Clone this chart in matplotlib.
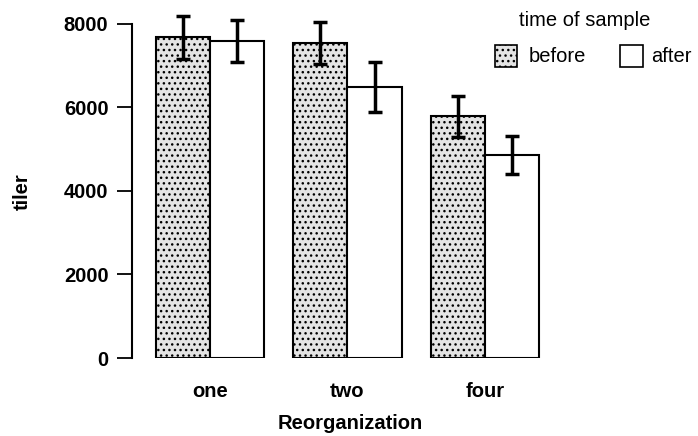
import matplotlib
matplotlib.use("Agg")
import matplotlib.pyplot as plt
from matplotlib.patches import Rectangle
import numpy as np

categories = ["one", "two", "four"]
before = [7680, 7540, 5790]
after = [7600, 6490, 4860]
before_err = [520, 500, 490]
after_err = [500, 590, 455]
yticks = [0, 2000, 4000, 6000, 8000]

plt.rcParams['font.family'] = ['Liberation Sans', 'DejaVu Sans']
fs = 14.5
W, H = 698, 436

fig = plt.figure(figsize=(6.98, 4.36), dpi=100)
ax = fig.add_axes([132/W, 78/H, 566/W, 354/H])

x = np.arange(len(categories))
w = 0.395
ax.bar(x - w/2, before, w, facecolor='#e4e4e4', edgecolor='black', hatch='...',
       linewidth=1.5)
ax.bar(x + w/2, after, w, facecolor='white', edgecolor='black', linewidth=1.5)
ax.errorbar(x - w/2, before, yerr=before_err, fmt='none', ecolor='black',
            elinewidth=2.5, capsize=5, capthick=2.5)
ax.errorbar(x + w/2, after, yerr=after_err, fmt='none', ecolor='black',
            elinewidth=2.5, capsize=5, capthick=2.5)

ax.set_xlim(-0.567, 3.549)
ax.set_ylim(0, 8479)
ax.spines['top'].set_visible(False)
ax.spines['right'].set_visible(False)
ax.spines['bottom'].set_visible(False)
ax.spines['left'].set_bounds(0, 8000)
ax.spines['left'].set_linewidth(1.5)
ax.set_yticks(yticks)
ax.set_yticklabels([str(v) for v in yticks], fontsize=fs, fontweight='bold')
ax.tick_params(axis='y', length=11, width=1.3, pad=6)
ax.set_xticks(x)
ax.set_xticklabels(categories, fontsize=fs, fontweight='bold')
ax.tick_params(axis='x', length=0, pad=17)

fig.text(350/W, 1 - 423/H, "Reorganization", ha='center', va='center',
         fontsize=fs, fontweight='bold')
fig.text(22/W, 1 - 192/H, "tiler", ha='center', va='center', rotation=90,
         fontsize=fs, fontweight='bold')

# legend
fig.text(585/W, 1 - 20/H, "time of sample", ha='center', va='center', fontsize=fs)
fig.add_artist(Rectangle((495/W, 1 - 67/H), 22/W, 22/H, transform=fig.transFigure,
                         facecolor='#e4e4e4', edgecolor='black', hatch='...',
                         linewidth=1.2))
fig.text(529/W, 1 - 56/H, "before", ha='left', va='center', fontsize=fs)
fig.add_artist(Rectangle((620/W, 1 - 67/H), 23/W, 22/H, transform=fig.transFigure,
                         facecolor='white', edgecolor='black', linewidth=1.2))
fig.text(651/W, 1 - 56/H, "after", ha='left', va='center', fontsize=fs)

fig.savefig("out.png", dpi=100)
